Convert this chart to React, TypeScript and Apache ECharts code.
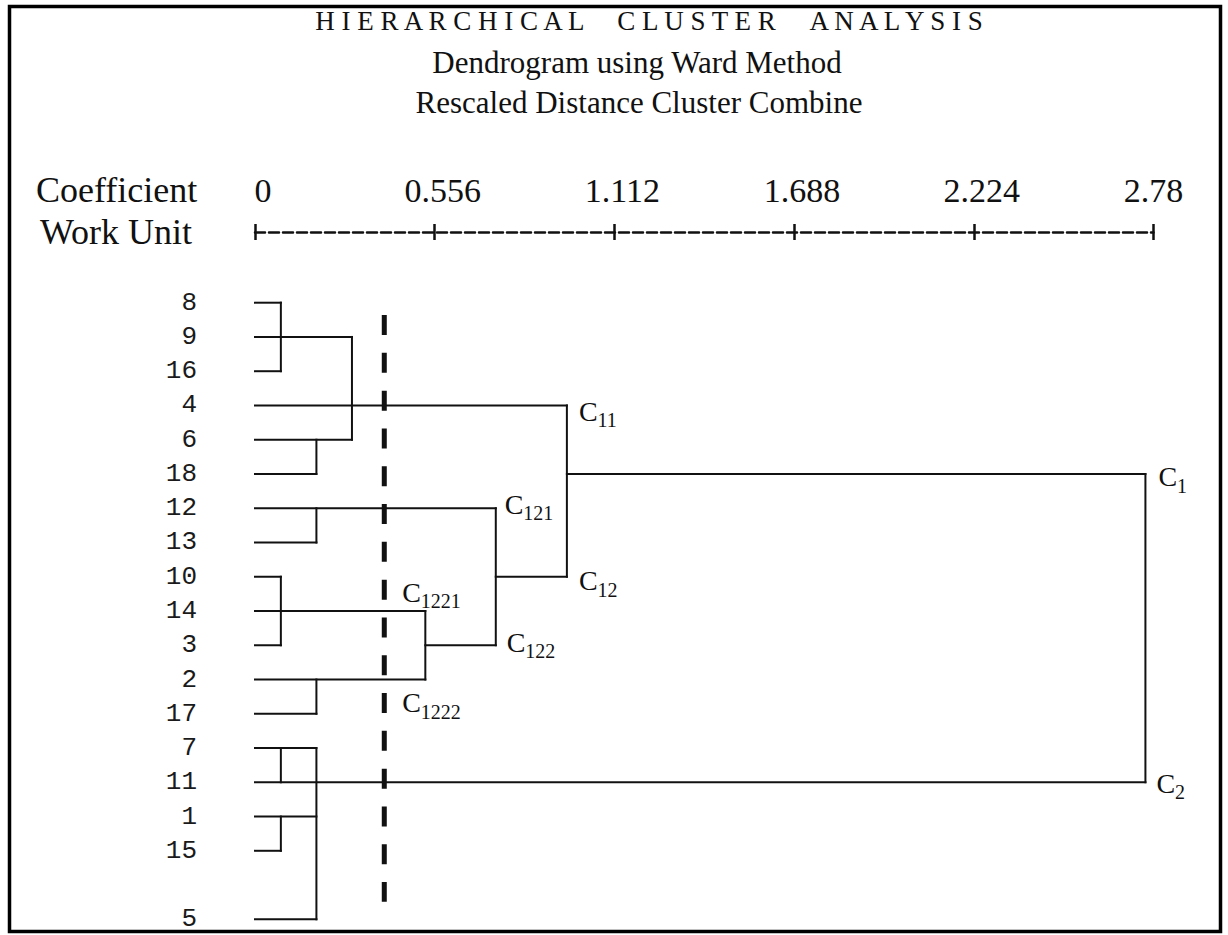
import React, { useEffect, useRef } from "react";
import * as echarts from "echarts";

// ---------- data ----------
const titleText = "HIERARCHICAL CLUSTER ANALYSIS";
const subtitle1 = "Dendrogram using Ward Method";
const subtitle2 = "Rescaled Distance Cluster Combine";
const coefTitle = "Coefficient";
const unitTitle = "Work Unit";

// leaf order top → bottom ("" = empty row)
const rowLabels = ["8", "9", "16", "4", "6", "18", "12", "13", "10", "14", "3", "2", "17", "7", "11", "1", "15", "", "5"];
const coefTicks = ["0", "0.556", "1.112", "1.688", "2.224", "2.78"];
const coefStep = 0.556;
const coefMax = 2.78;

// horizontal links: [row, from coefficient, to coefficient]
const hLinks: [string, number, number][] = [
  ["8", 0, 0.08], ["9", 0, 0.3], ["16", 0, 0.08], ["4", 0, 0.965], ["6", 0, 0.3], ["18", 0, 0.19],
  ["12", 0, 0.745], ["13", 0, 0.19], ["10", 0, 0.08], ["14", 0, 0.527], ["3", 0, 0.08], ["2", 0, 0.527],
  ["17", 0, 0.19], ["7", 0, 0.19], ["11", 0, 2.755], ["1", 0, 0.19], ["15", 0, 0.08], ["5", 0, 0.19],
  ["18", 0.965, 2.755], ["10", 0.745, 0.965], ["3", 0.527, 0.745],
];
// vertical links: [coefficient, from row, to row]
const vLinks: [number, string, string][] = [
  [0.08, "8", "16"], [0.3, "9", "6"], [0.19, "6", "18"], [0.965, "4", "10"], [0.19, "12", "13"],
  [0.745, "12", "3"], [0.08, "10", "3"], [0.527, "14", "2"], [0.19, "2", "17"], [0.08, "7", "11"],
  [0.08, "1", "15"], [0.19, "7", "5"], [2.755, "18", "11"],
];
// cut level (dashed line) and the row span it covers
const cutLevel = 0.4;
const cutSpan = [0.36, 17.49];

// cluster labels: C + subscript, attached to nodes
const clusterSubs = ["11", "12", "1", "2", "121", "122", "1221", "1222"];
const clusterCoef = [0.965, 0.965, 2.755, 2.755, 0.745, 0.745, 0.527, 0.527];
const clusterRow = ["4", "10", "18", "11", "12", "3", "14", "2"];

// ---------- layout (pixel offsets of labels from their nodes) ----------
const labelOffsets: [number, number][] = [
  [12, 6], [12, 4], [13, 3], [11, 1], [9, -4], [11, -3], [-23, -19], [-23, 23],
];

const rowIndex = (r: string) => rowLabels.indexOf(r);
const spaced = (s: string) =>
  s.split(" ").map((w) => w.split("").join(" ")).join(" \u00a0\u00a0\u00a0\u00a0");

const INK = "#111";
const SERIF = "Liberation Serif";

export default function App() {
  const ref = useRef<HTMLDivElement>(null);

  useEffect(() => {
    if (!ref.current) return;
    const chart = echarts.init(ref.current, undefined, { renderer: "svg" });

    const segData = [
      ...hLinks.map(([r, a, b]) => [a, rowIndex(r), b, rowIndex(r)]),
      ...vLinks.map(([c, r1, r2]) => [c, rowIndex(r1), c, rowIndex(r2)]),
    ];

    const baseX = {
      type: "value",
      position: "top",
      min: 0,
      max: coefMax,
      interval: coefStep,
      offset: 70.7,
      splitLine: { show: false },
    };

    const tickFont = { fontFamily: SERIF, fontSize: 34, color: INK };

    const option: any = {
      animation: false,
      backgroundColor: "#fff",
      grid: { left: 255, right: 74.5, top: 302.7, bottom: 15.7, containLabel: false },
      xAxis: [
        {
          ...baseX,
          axisLine: { show: true, onZero: false, lineStyle: { color: INK, width: 2.5, type: [10, 4] } },
          axisTick: { show: true, inside: false, length: 8, lineStyle: { color: INK, width: 2.5 } },
          axisLabel: {
            show: true,
            margin: 42,
            formatter: (v: number) => {
              const i = Math.round(v / coefStep);
              const t = coefTicks[i] ?? "";
              return i === coefTicks.length - 1 ? `{e|${t}}` : `{s|${t}}`;
            },
            ...tickFont,
            verticalAlign: "middle",
            rich: {
              s: { ...tickFont, padding: [0, 0, 0, 16] },
              e: { ...tickFont },
            },
            showMinLabel: true,
            showMaxLabel: true,
          },
          name: unitTitle,
          nameLocation: "start",
          nameGap: 63,
          nameTextStyle: { fontFamily: SERIF, fontSize: 36, color: INK },
        },
        {
          ...baseX,
          axisLine: { show: false, onZero: false },
          axisTick: { show: true, inside: true, length: 8, lineStyle: { color: INK, width: 2.5 } },
          axisLabel: { show: false },
        },
      ],
      yAxis: [
        {
          type: "value",
          min: 0,
          max: rowLabels.length - 1,
          interval: 1,
          inverse: true,
          axisLine: { show: false },
          axisTick: { show: false },
          splitLine: { show: false },
          axisLabel: {
            margin: 58,
            formatter: (v: number) => rowLabels[Math.round(v)] ?? "",
            fontFamily: "Liberation Mono",
            fontSize: 26,
            color: "#1a1a1a",
          },
        },
      ],
      graphic: [
        {
          type: "rect",
          shape: { x: 9.5, y: 6.5, width: 1211, height: 925 },
          style: { fill: "none", stroke: "#000", lineWidth: 3.5 },
          silent: true,
        },
        {
          type: "text",
          x: 649,
          y: 21,
          style: { text: spaced(titleText), font: `27px "${SERIF}"`, fill: INK, align: "center", verticalAlign: "middle" },
        },
        {
          type: "text",
          x: 637,
          y: 62,
          style: { text: subtitle1, font: `31px "${SERIF}"`, fill: INK, align: "center", verticalAlign: "middle" },
        },
        {
          type: "text",
          x: 639,
          y: 102,
          style: { text: subtitle2, font: `31px "${SERIF}"`, fill: INK, align: "center", verticalAlign: "middle" },
        },
        {
          type: "text",
          x: 36,
          y: 190,
          style: { text: coefTitle, font: `36px "${SERIF}"`, fill: INK, align: "left", verticalAlign: "middle" },
        },
      ],
      series: [
        {
          type: "custom",
          name: "links",
          xAxisIndex: 0,
          yAxisIndex: 0,
          silent: true,
          data: segData,
          encode: { x: [0, 2], y: [1, 3] },
          renderItem: (_p: any, api: any) => {
            const p1 = api.coord([api.value(0), api.value(1)]);
            const p2 = api.coord([api.value(2), api.value(3)]);
            return {
              type: "line",
              shape: { x1: p1[0], y1: p1[1], x2: p2[0], y2: p2[1] },
              style: { stroke: INK, lineWidth: 2, lineCap: "square" },
            };
          },
        },
        {
          type: "custom",
          name: "cut",
          xAxisIndex: 0,
          yAxisIndex: 0,
          silent: true,
          data: [[cutLevel, cutSpan[0], cutLevel, cutSpan[1]]],
          encode: { x: [0, 2], y: [1, 3] },
          renderItem: (_p: any, api: any) => {
            const p1 = api.coord([api.value(0), api.value(1)]);
            const p2 = api.coord([api.value(2), api.value(3)]);
            return {
              type: "line",
              shape: { x1: p1[0], y1: p1[1], x2: p2[0], y2: p2[1] },
              style: { stroke: INK, lineWidth: 5, lineDash: [20, 17.8] },
            };
          },
        },
        {
          type: "custom",
          name: "clusters",
          xAxisIndex: 0,
          yAxisIndex: 0,
          silent: true,
          data: clusterSubs.map((_, i) => [clusterCoef[i], rowIndex(clusterRow[i])]),
          encode: { x: 0, y: 1 },
          renderItem: (params: any, api: any) => {
            const i = params.dataIndex;
            const p = api.coord([api.value(0), api.value(1)]);
            const [dx, dy] = labelOffsets[i];
            return {
              type: "group",
              children: [
                {
                  type: "text",
                  x: p[0] + dx,
                  y: p[1] + dy,
                  style: { text: "C", font: `28px "${SERIF}"`, fill: INK, align: "left", verticalAlign: "middle" },
                },
                {
                  type: "text",
                  x: p[0] + dx + 18.5,
                  y: p[1] + dy + 9,
                  style: { text: clusterSubs[i], font: `20px "${SERIF}"`, fill: INK, align: "left", verticalAlign: "middle" },
                },
              ],
            };
          },
        },
      ],
    };

    chart.setOption(option);
    return () => chart.dispose();
  }, []);

  return (
    <div
      ref={ref}
      style={{ position: "fixed", left: 0, top: 0, width: 1228, height: 935, background: "#fff" }}
    />
  );
}
